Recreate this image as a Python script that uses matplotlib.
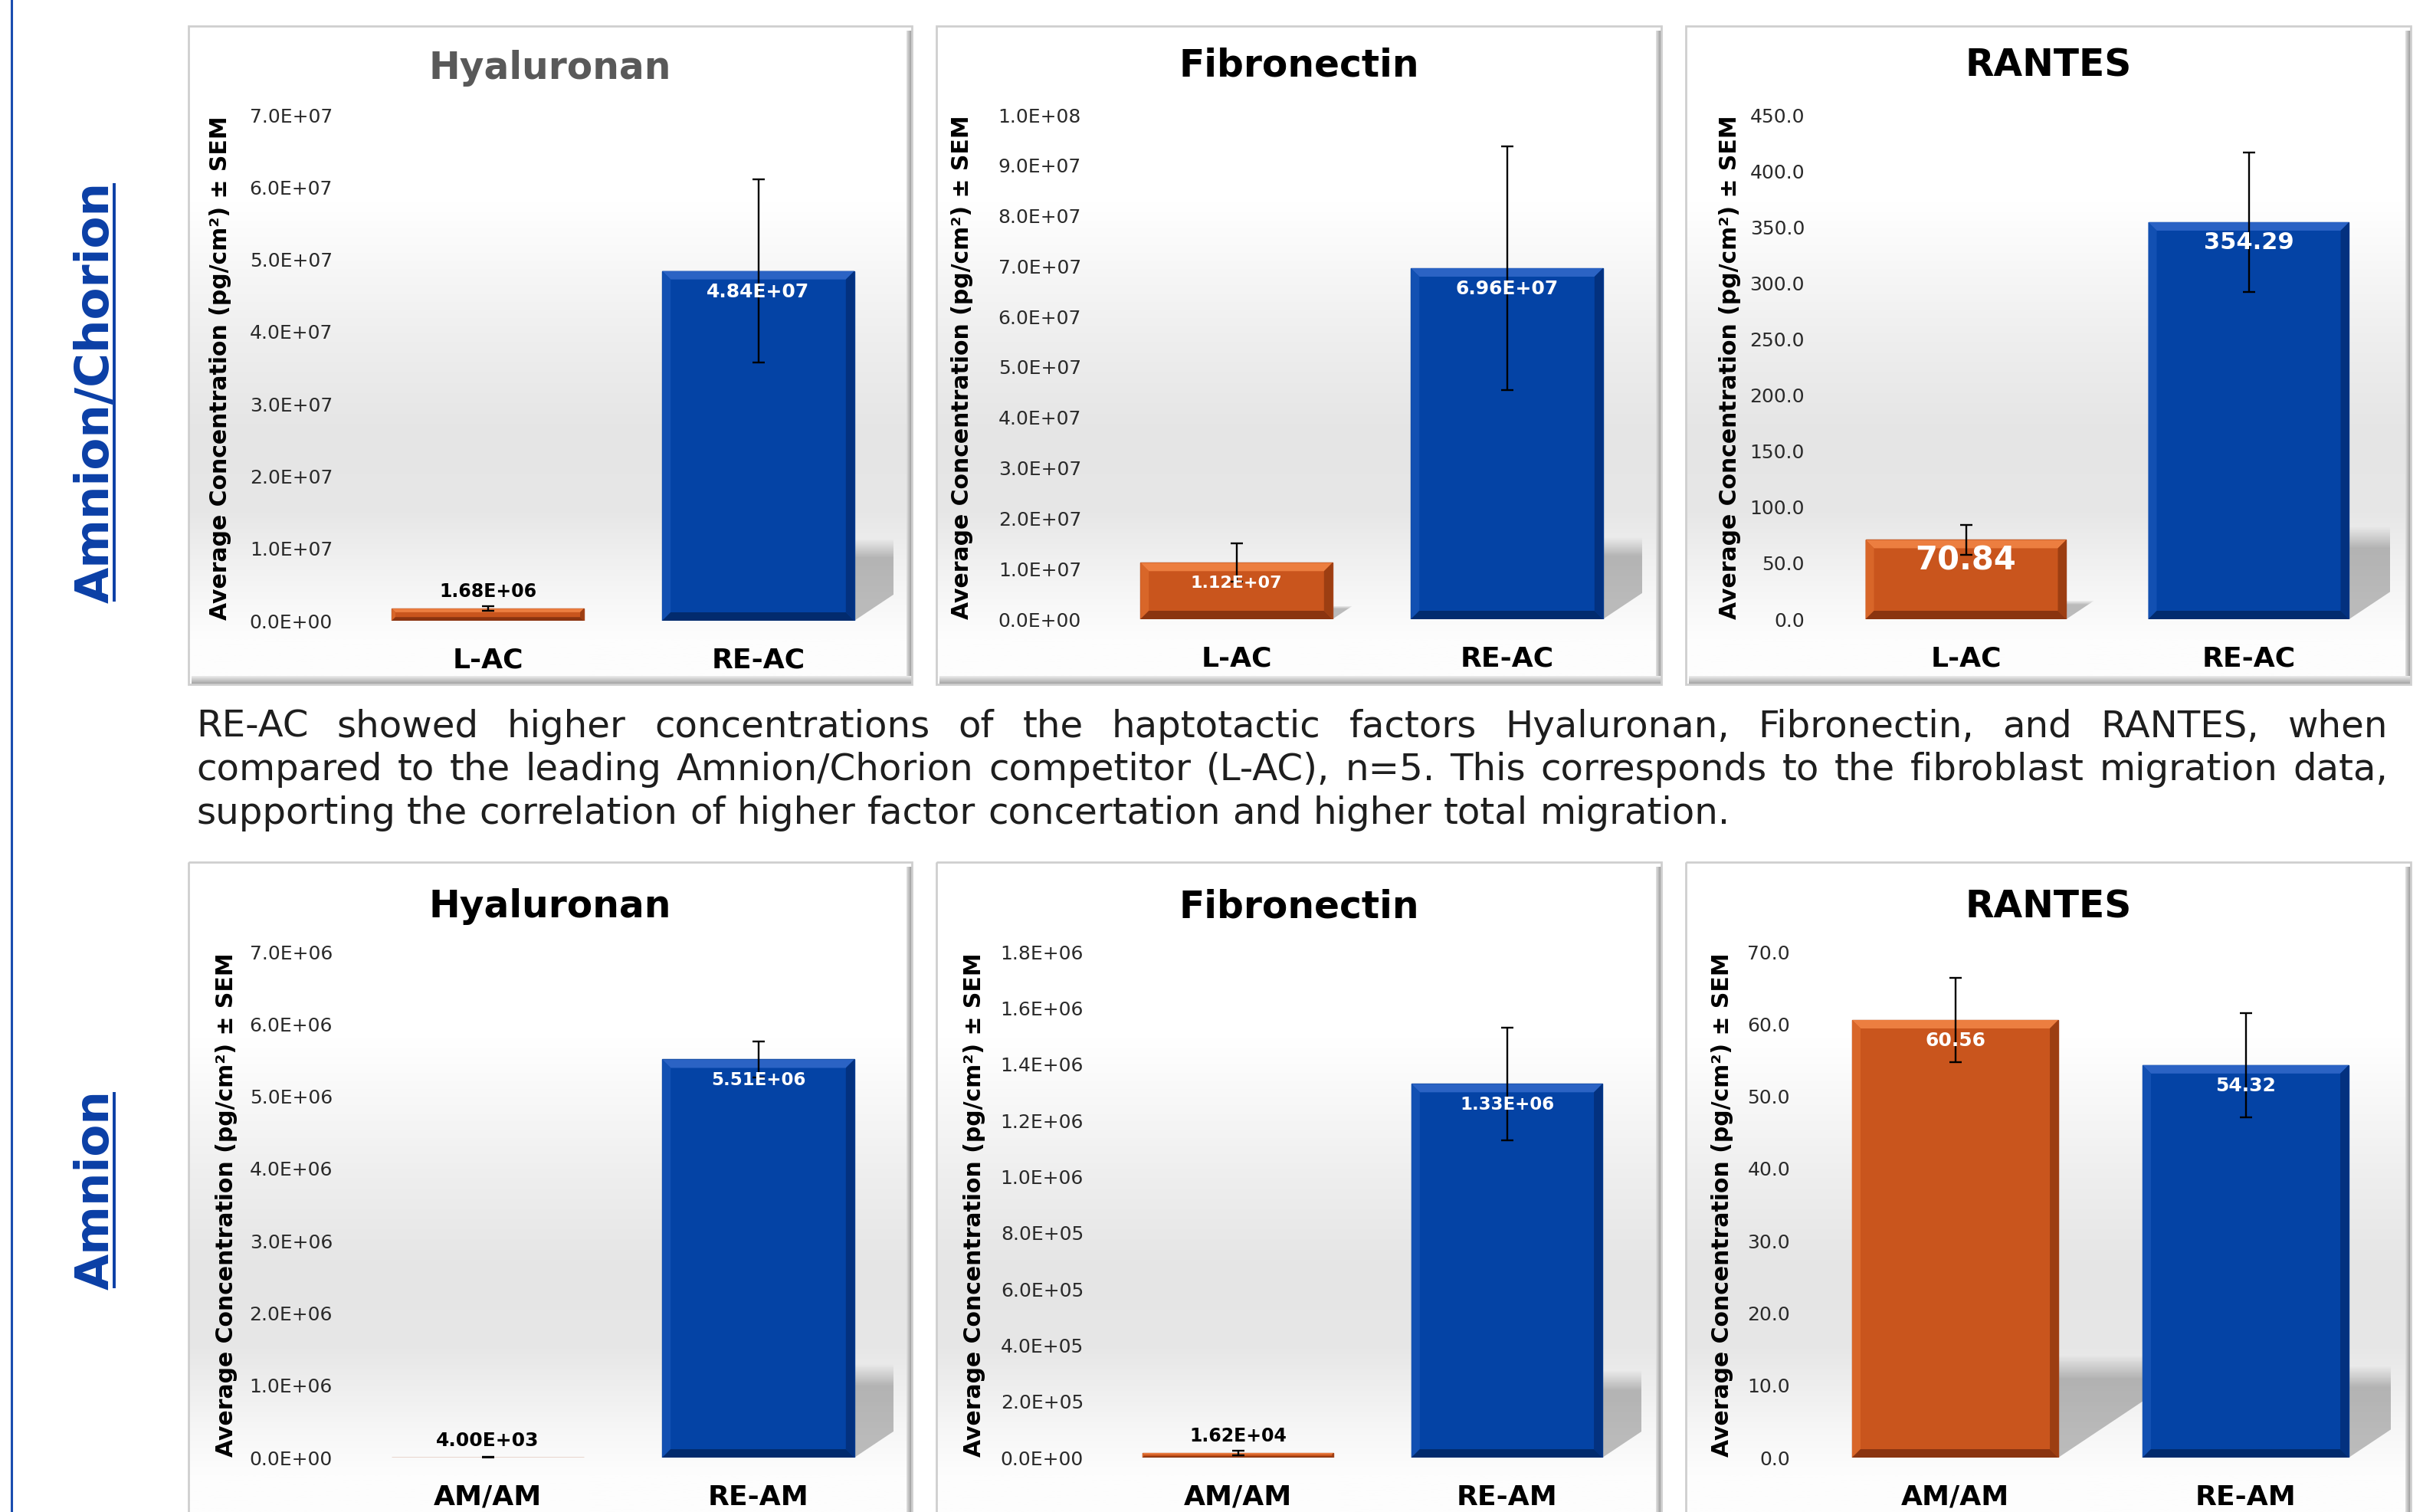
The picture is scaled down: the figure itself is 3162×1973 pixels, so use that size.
import numpy as np
import matplotlib
matplotlib.use('Agg')
import matplotlib.pyplot as plt
from matplotlib.patches import Polygon, Rectangle

plt.rcParams['font.family'] = ['DejaVu Sans']

W, H = 3162, 1973
DPI = 100

# ---------------- data ----------------
cats_ac = ['L-AC', 'RE-AC']
cats_am = ['AM/AM', 'RE-AM']

titles = ['Hyaluronan', 'Fibronectin', 'RANTES', 'Hyaluronan', 'Fibronectin', 'RANTES']

hyal_ac = [1.68e6, 4.84e7]
hyal_ac_sem = [3.0e5, 1.27e7]
fibr_ac = [1.12e7, 6.96e7]
fibr_ac_sem = [3.8e6, 2.42e7]
rantes_ac = [70.84, 354.29]
rantes_ac_sem = [13.4, 62.0]

hyal_am = [4.00e3, 5.51e6]
hyal_am_sem = [3.0e3, 2.5e5]
fibr_am = [1.62e4, 1.33e6]
fibr_am_sem = [8.0e3, 2.0e5]
rantes_am = [60.56, 54.32]
rantes_am_sem = [5.8, 7.2]

labels_ac = [['1.68E+06', '4.84E+07'], ['1.12E+07', '6.96E+07'], ['70.84', '354.29']]
labels_am = [['4.00E+03', '5.51E+06'], ['1.62E+04', '1.33E+06'], ['60.56', '54.32']]

y_max = [7e7, 1e8, 450, 7e6, 1.8e6, 70]
y_step = [1e7, 1e7, 50, 1e6, 2e5, 10]
y_fmt = ['{:.1E}', '{:.1E}', '{:.1f}', '{:.1E}', '{:.1E}', '{:.1f}']

ylabel = 'Average Concentration (pg/cm²) ± SEM'

caption = ["RE-AC showed higher concentrations of the haptotactic factors Hyaluronan, Fibronectin, and RANTES, when",
           "compared to the leading Amnion/Chorion competitor (L-AC), n=5. This corresponds to the fibroblast migration data,",
           "supporting the correlation of higher factor concertation and higher total migration."]

values = [hyal_ac, fibr_ac, rantes_ac, hyal_am, fibr_am, rantes_am]
sems = [hyal_ac_sem, fibr_ac_sem, rantes_ac_sem, hyal_am_sem, fibr_am_sem, rantes_am_sem]
val_labels = labels_ac + labels_am
categories = [cats_ac] * 3 + [cats_am] * 3

# ---------------- style / layout (pixels) ----------------
ORANGE = '#C9551D'
BLUE = '#0443A5'
BEVEL = {ORANGE: ('#EC7E40', '#D86629', '#9C3E12', '#8A3410', '#A4431A'),
         BLUE: ('#2B63C4', '#1250B2', '#03317F', '#022B6E', '#033A8E')}
TXT_BLUE = '#0B3FA6'

boxes = [(246, 34, 1190, 893), (1222, 34, 2168, 893), (2200, 34, 3146, 893),
         (246, 1125, 1190, 1984), (1222, 1125, 2168, 1984), (2200, 1125, 3146, 1984)]
axes_px = [(460, 1166, 150, 810), (1437, 2143, 150, 808), (2381, 3119, 150, 808),
           (460, 1166, 1242, 1902), (1440, 2142, 1242, 1902), (2362, 3120, 1242, 1902)]
ylabel_x = [288, 1256, 2258, 296, 1272, 2248]
title_y = [89, 85, 85, 1183, 1183, 1183]
title_col = ['#595959', 'black', 'black', 'black', 'black', 'black']
val_sizes = [[17, 18], [16, 18], [30, 22], [18, 16.5], [17, 16.5], [18, 18]]


def main():
    fig = plt.figure(figsize=(W / DPI, H / DPI), dpi=DPI)
    fig.patch.set_facecolor('white')
    renderer = fig.canvas.get_renderer()

    bg = fig.add_axes([0, 0, 1, 1], zorder=0)
    bg.axis('off')

    # panel backgrounds and frames
    stops = [0, 0.27, 0.48, 0.62, 0.74, 0.86, 0.93, 1.0]
    levels = [255, 255, 238, 229, 231, 246, 253, 253]
    rows = np.linspace(0, 1, 300)
    g = np.interp(rows, stops, levels) / 255.0
    grad = np.dstack([g, g, g]).reshape(300, 1, 3)
    for (x0, y0, x1, y1) in boxes:
        bg.imshow(grad, extent=(x0, x1, y1, y0), origin='upper', aspect='auto', zorder=1)
        bg.add_patch(Rectangle((x0, y0), x1 - x0, y1 - y0, fill=False, ec='#cfcfcf', lw=2, zorder=3))
        rs = np.linspace(225, 150, 20)[None, :] / 255.0
        bg.imshow(np.dstack([rs, rs, rs]), extent=(x1 - 7, x1, y1, y0 + 6), origin='upper', aspect='auto', zorder=2)
        bs = np.linspace(235, 160, 20)[:, None] / 255.0
        bg.imshow(np.dstack([bs, bs, bs]), extent=(x0 + 4, x1, y1, y1 - 11), origin='upper', aspect='auto', zorder=2)
    bg.plot([15, 15], [0, H], color='#1A4DB0', lw=2.2, zorder=4)
    bg.set_xlim(0, W)
    bg.set_ylim(H, 0)

    # row labels
    for txt, yc in (('Amnion/Chorion', 512), ('Amnion', 1553)):
        t = fig.text(142 / W, 1 - yc / H, txt, rotation=90, rotation_mode='anchor',
                     ha='center', va='baseline', fontsize=44, weight='bold', color=TXT_BLUE)
        bb = t.get_window_extent(renderer)
        bg.plot([149, 149], [H - bb.y1 + 2, H - bb.y0 - 2], color=TXT_BLUE, lw=2.8, zorder=4,
                solid_capstyle='butt')

    # charts
    for k in range(6):
        x0, x1, yt, yb = axes_px[k]
        ax = fig.add_axes([x0 / W, 1 - yb / H, (x1 - x0) / W, (yb - yt) / H], zorder=2)
        ax.patch.set_visible(False)
        for s in ax.spines.values():
            s.set_visible(False)
        ymax = y_max[k]
        vals = values[k]
        pos = np.arange(len(vals))
        dxp = 2.0 / (x1 - x0)
        dyp = ymax / (yb - yt)
        width = 0.71
        colors = [ORANGE, BLUE]

        bars = ax.bar(pos, vals, width=width, color=colors,
                      edgecolor=[BEVEL[c][4] for c in colors], linewidth=1.0, zorder=3)

        for b, c in zip(bars, colors):
            L = b.get_x()
            R = L + b.get_width()
            h = b.get_height()
            hpx = h / dyp
            # perspective shadow on the backdrop (scaled with bar height)
            hs = 0.235 * hpx
            if hs > 4:
                shift = 1.5 * hs * dxp
                top = hs * dyp
                poly = Polygon([(L, 0), (R, 0), (R + shift, top), (L + shift, top)],
                               closed=True, transform=ax.transData)
                a = np.full(64, 0.25)
                a[-16:] *= np.linspace(1, 0, 16)
                img = np.zeros((64, 1, 4))
                img[:, 0, 3] = a
                im = ax.imshow(img, extent=(L, R + shift, 0, top), origin='lower',
                               aspect='auto', zorder=2, interpolation='bilinear')
                im.set_clip_path(poly)
            # bevel
            tpx = min(11, hpx * 0.3)
            if tpx > 0.8:
                tx = tpx * dxp
                ty = tpx * dyp
                top_c, left_c, right_c, bottom_c, _ = BEVEL[c]
                for pts, col in (([(L, h), (R, h), (R - tx, h - ty), (L + tx, h - ty)], top_c),
                                 ([(L, 0), (L, h), (L + tx, h - ty), (L + tx, ty)], left_c),
                                 ([(R, 0), (R, h), (R - tx, h - ty), (R - tx, ty)], right_c),
                                 ([(L, 0), (R, 0), (R - tx, ty), (L + tx, ty)], bottom_c)):
                    ax.add_patch(Polygon(pts, closed=True, fc=col, ec='none', zorder=4))

        ax.errorbar(pos, vals, yerr=sems[k], fmt='none', ecolor='black', elinewidth=1.7,
                    capsize=6, capthick=1.7, zorder=6)

        for i, b in enumerate(bars):
            h = b.get_height()
            xc = b.get_x() + b.get_width() / 2
            if h / dyp > 60:
                ax.annotate(val_labels[k][i], (xc, h), xytext=(0, -27), textcoords='offset pixels',
                            ha='center', va='center', color='white', weight='bold',
                            fontsize=val_sizes[k][i], zorder=7)
            else:
                ax.annotate(val_labels[k][i], (xc, h), xytext=(0, 22), textcoords='offset pixels',
                            ha='center', va='center', color='black', weight='bold',
                            fontsize=val_sizes[k][i], zorder=7)

        ax.set_xlim(-0.5, 1.5)
        ax.set_ylim(0, ymax)
        ticks = np.arange(0, ymax + y_step[k] * 0.5, y_step[k])
        ax.set_yticks(ticks)
        ax.set_yticklabels([y_fmt[k].format(v) for v in ticks])
        ax.set_xticks(pos)
        ax.set_xticklabels(categories[k])
        ax.tick_params(axis='y', length=0, pad=18.7, labelsize=18, labelcolor='#2a2a2a')
        ax.tick_params(axis='x', length=0, pad=25, labelsize=26)
        for lab in ax.get_xticklabels():
            lab.set_fontweight('bold')

        ax.set_ylabel(ylabel, fontsize=21.5, weight='bold', color='black')
        ax.yaxis.label.set_va('center')
        ax.yaxis.set_label_coords((ylabel_x[k] - x0) / (x1 - x0), 0.5)

        bx0, by0, bx1, by1 = boxes[k]
        fig.text((bx0 + bx1) / 2 / W, 1 - title_y[k] / H, titles[k], ha='center', va='center',
                 fontsize=35, weight='bold', color=title_col[k])

    # justified caption
    def width_of(s, fs):
        t = fig.text(0, 0, s, fontsize=fs)
        w = t.get_window_extent(renderer).width
        t.remove()
        return w

    cx0, cx1 = 256, 3116
    fs = 30 * 1998 / width_of(caption[2], 30)
    space = width_of('a a', fs) - width_of('aa', fs)
    em = fs * DPI / 72
    line_y = [946, 1002, 1059]
    for n, (line, yc) in enumerate(zip(caption, line_y)):
        words = line.split()
        texts = [fig.text(0, 1 - (yc + 0.33 * em) / H, w, fontsize=fs, va='baseline',
                          ha='left', color='#1e1e1e') for w in words]
        widths = [t.get_window_extent(renderer).width for t in texts]
        if n < len(caption) - 1:
            gap = (cx1 - cx0 - sum(widths)) / (len(words) - 1)
        else:
            gap = space
        x = cx0
        for t, w in zip(texts, widths):
            t.set_x(x / W)
            x += w + gap

    fig.savefig('out.png', dpi=DPI, facecolor='white')


if __name__ == "__main__":
    main()
